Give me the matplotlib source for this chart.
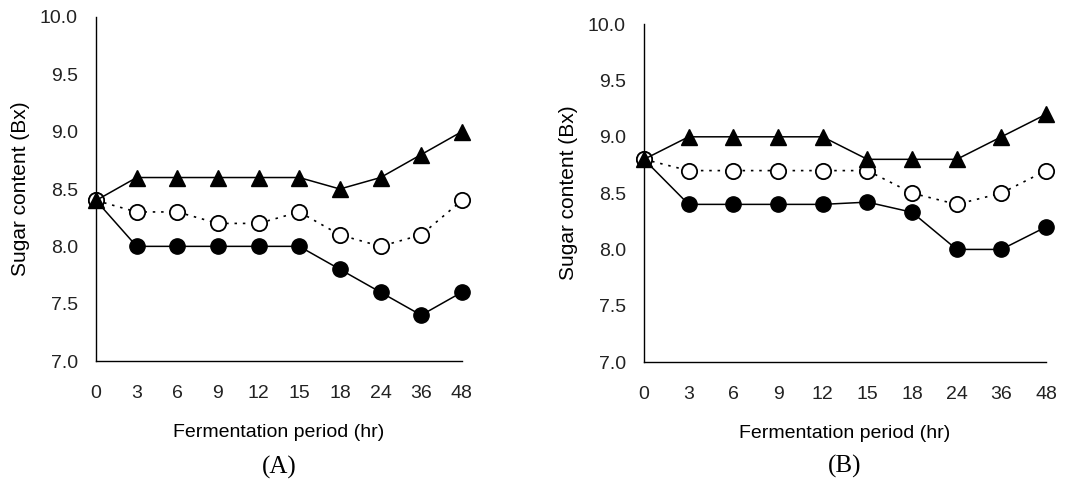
import numpy as np
import matplotlib.pyplot as plt

plt.rcParams['font.family'] = ['Liberation Sans', 'DejaVu Sans']

# fermentation time points (hr), shown as equally spaced categories
hours = ["0", "3", "6", "9", "12", "15", "18", "24", "36", "48"]

# panel A
a_tri = [8.4, 8.6, 8.6, 8.6, 8.6, 8.6, 8.5, 8.6, 8.8, 9.0]
a_open = [8.4, 8.3, 8.3, 8.2, 8.2, 8.3, 8.1, 8.0, 8.1, 8.4]
a_fill = [8.4, 8.0, 8.0, 8.0, 8.0, 8.0, 7.8, 7.6, 7.4, 7.6]

# panel B
b_tri = [8.8, 9.0, 9.0, 9.0, 9.0, 8.8, 8.8, 8.8, 9.0, 9.2]
b_open = [8.8, 8.7, 8.7, 8.7, 8.7, 8.7, 8.5, 8.4, 8.5, 8.7]
b_fill = [8.8, 8.4, 8.4, 8.4, 8.4, 8.42, 8.33, 8.0, 8.0, 8.2]

yticks = [7.0, 7.5, 8.0, 8.5, 9.0, 9.5, 10.0]

fig = plt.figure(figsize=(10.74, 4.84), dpi=100)
axA = fig.add_axes([0.0894, 0.254, 0.3406, 0.711])
axB = fig.add_axes([0.5996, 0.252, 0.3744, 0.698])


def draw(ax, tri, opn, fil, letter):
    x = np.arange(len(hours))
    ax.plot(x, fil, color='black', lw=1.1, marker='o', ms=11,
            mfc='black', mec='black', clip_on=False, zorder=3)
    ax.plot(x, opn, color='black', lw=1.2, ls=(0, (1.5, 3.5)), marker='o', ms=11,
            mfc='white', mec='black', mew=1.3, clip_on=False, zorder=4)
    ax.plot(x, tri, color='black', lw=1.1, marker='^', ms=12,
            mfc='black', mec='black', clip_on=False, zorder=5)
    ax.set_xlim(0, len(hours) - 1)
    ax.set_ylim(7.0, 10.0)
    ax.set_xticks(x)
    ax.set_xticklabels(hours)
    ax.set_yticks(yticks)
    ax.set_yticklabels(["%.1f" % v for v in yticks])
    ax.tick_params(length=0, labelsize=14, colors='#222222')
    ax.tick_params(axis='y', pad=13)
    ax.tick_params(axis='x', pad=17)
    for s in ['top', 'right']:
        ax.spines[s].set_visible(False)
    for s in ['left', 'bottom']:
        ax.spines[s].set_linewidth(1.0)
    ax.set_xlabel("Fermentation period (hr)", fontsize=14, labelpad=16)
    ax.set_ylabel("Sugar content (Bx)", fontsize=15, labelpad=7)
    ax.text(0.5, -0.31, letter, transform=ax.transAxes, ha='center', va='center',
            fontsize=18, family='Liberation Serif')


draw(axA, a_tri, a_open, a_fill, "(A)")
draw(axB, b_tri, b_open, b_fill, "(B)")

fig.savefig("out.png", dpi=100)
